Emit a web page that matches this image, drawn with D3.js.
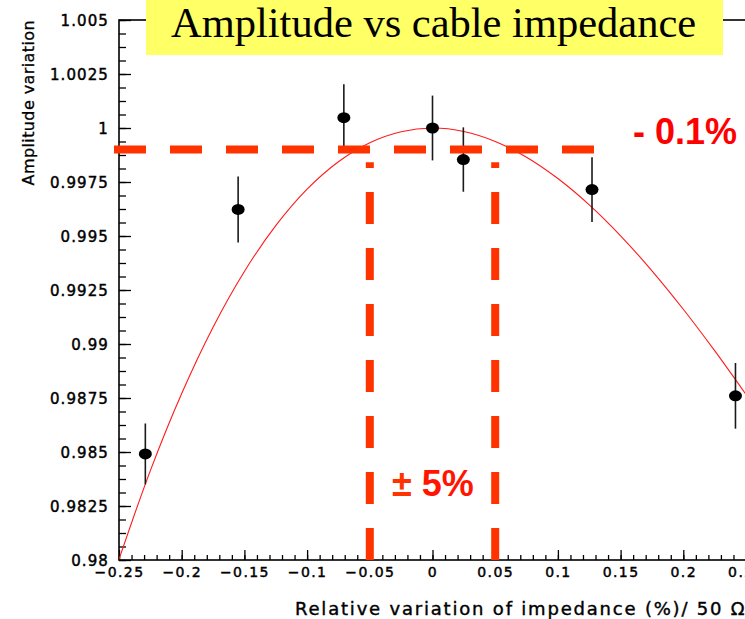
<!DOCTYPE html>
<html>
<head>
<meta charset="utf-8">
<script src="https://cdn.jsdelivr.net/npm/d3@7"></script>
<style>
  html, body { margin: 0; padding: 0; background: #fff; }
  svg { display: block; }
</style>
</head>
<body>
<svg id="chart" width="745" height="619"></svg>
<script>
// Axis ticks and their labels
const xTickValues = [-0.25, -0.2, -0.15, -0.1, -0.05, 0, 0.05, 0.1, 0.15, 0.2, 0.25];
const xTickLabels = ["−0.25", "−0.2", "−0.15", "−0.1", "−0.05", "0", "0.05", "0.1", "0.15", "0.2", "0.25"];
const yTickValues = [0.98, 0.9825, 0.985, 0.9875, 0.99, 0.9925, 0.995, 0.9975, 1, 1.0025, 1.005];
const yTickLabels = ["0.98", "0.9825", "0.985", "0.9875", "0.99", "0.9925", "0.995", "0.9975", "1", "1.0025", "1.005"];

// Measured amplitude vs relative impedance variation
const impedanceVar = [-0.229, -0.155, -0.0707, 0.0, 0.0246, 0.1272, 0.2416];
const amplitude    = [0.98491, 0.99623, 1.00048, 1.00000, 0.99854, 0.99715, 0.98760];
const amplitudeErr = [0.00141, 0.00153, 0.00154, 0.00150, 0.00149, 0.00150, 0.00152];

// Fitted curve, sampled along the axis
const fitX = [-0.25, -0.225, -0.2, -0.175, -0.15, -0.125, -0.1, -0.075, -0.05, -0.025, 0,
              0.025, 0.05, 0.075, 0.1, 0.125, 0.15, 0.175, 0.2, 0.225, 0.25];
const fitY = [0.98003, 0.98414, 0.98771, 0.99078, 0.99336, 0.99548, 0.99717, 0.99844, 0.99932, 0.99983, 1.0,
              0.99984, 0.99938, 0.99865, 0.99766, 0.99644, 0.99501, 0.99339, 0.99161, 0.98969, 0.98766];

// Tolerance annotations
const amplitudeDrop = 0.001;     // "- 0.1%"
const impedanceRange = 0.05;     // "± 5%"
const dropLineFrom = -0.254, dropLineTo = 0.1294;
const rangeLineTop = 0.99842;

const svg = d3.select("#chart");
const x = d3.scaleLinear().domain([-0.25, 0.25]).range([119, 746]);
const y = d3.scaleLinear().domain([0.98, 1.005]).range([560, 20]);

const tickFont = "'DejaVu Sans', sans-serif";

svg.append("rect").attr("width", 745).attr("height", 619).attr("fill", "#fff");

svg.append("defs").append("clipPath").attr("id", "plotArea")
  .append("rect").attr("x", 119).attr("y", 20).attr("width", 627).attr("height", 540);

// Y axis: minor then major ticks, drawn inside the frame
const yMinor = d3.range(0, 41).map(i => +(0.98 + i * 0.000625).toFixed(6));
svg.append("g").attr("transform", "translate(119,0)")
  .call(d3.axisLeft(y).tickValues(yMinor).tickSize(-7).tickFormat(""))
  .call(g => g.select(".domain").remove())
  .call(g => g.selectAll("line").attr("stroke", "#000").attr("stroke-width", 1.3));

const yAxis = svg.append("g").attr("transform", "translate(119,0)")
  .call(d3.axisLeft(y).tickValues(yTickValues).tickFormat((d, i) => yTickLabels[i])
        .tickSize(-12).tickPadding(10))
  .call(g => g.select(".domain").remove());
yAxis.selectAll("line").attr("stroke", "#000").attr("stroke-width", 1.3);
yAxis.selectAll("text")
  .attr("font-family", tickFont).attr("font-size", 15)
  .attr("letter-spacing", "1.1px").attr("fill", "#000")
  .attr("stroke", "#000").attr("stroke-width", 0.45).attr("dy", "0.36em");

// X axis: minor then major ticks pointing up
const xMinor = d3.range(0, 51).map(i => +(-0.25 + i * 0.01).toFixed(4));
svg.append("g").attr("transform", "translate(0,560)")
  .call(d3.axisBottom(x).tickValues(xMinor).tickSize(-5).tickFormat(""))
  .call(g => g.select(".domain").remove())
  .call(g => g.selectAll("line").attr("stroke", "#000").attr("stroke-width", 1.3));

const xAxis = svg.append("g").attr("transform", "translate(0,560)")
  .call(d3.axisBottom(x).tickValues(xTickValues).tickFormat((d, i) => xTickLabels[i])
        .tickSize(-10).tickPadding(7))
  .call(g => g.select(".domain").remove());
xAxis.selectAll("line").attr("stroke", "#000").attr("stroke-width", 1.3);
xAxis.selectAll("text")
  .attr("font-family", tickFont).attr("font-size", 14)
  .attr("letter-spacing", "1.4px").attr("fill", "#000")
  .attr("stroke", "#000").attr("stroke-width", 0.45);

// Frame
svg.append("rect")
  .attr("x", x(-0.25)).attr("y", y(1.005))
  .attr("width", x(0.25) - x(-0.25)).attr("height", y(0.98) - y(1.005))
  .attr("fill", "none").attr("stroke", "#000").attr("stroke-width", 1.6);

// Axis titles
svg.append("text")
  .attr("transform", `translate(34,${y(1.005)}) rotate(-90)`)
  .attr("text-anchor", "end")
  .attr("font-family", tickFont).attr("font-size", 16).attr("letter-spacing", "0.4px")
  .attr("fill", "#000").attr("stroke", "#000").attr("stroke-width", 0.3)
  .text("Amplitude variation");

svg.append("text")
  .attr("x", 295).attr("y", 615)
  .attr("font-family", tickFont).attr("font-size", 18).attr("letter-spacing", "1.8px")
  .attr("fill", "#000").attr("stroke", "#000").attr("stroke-width", 0.4)
  .text("Relative variation of impedance (%)/ 50 Ω");

const plot = svg.append("g").attr("clip-path", "url(#plotArea)");

// Fit curve
const fitPts = fitX.map((d, i) => [d, fitY[i]]);
plot.append("path")
  .datum(fitPts)
  .attr("fill", "none").attr("stroke", "#ff1a1a").attr("stroke-width", 1.1)
  .attr("d", d3.line().x(d => x(d[0])).y(d => y(d[1])).curve(d3.curveCatmullRom));

// Error bars and markers
const pts = impedanceVar.map((d, i) => ({ x: d, y: amplitude[i], e: amplitudeErr[i] }));
plot.selectAll(".err").data(pts).join("line")
  .attr("x1", d => x(d.x)).attr("x2", d => x(d.x))
  .attr("y1", d => y(d.y - d.e)).attr("y2", d => y(d.y + d.e))
  .attr("stroke", "#1a1a1a").attr("stroke-width", 1.6);
plot.selectAll(".mk").data(pts).join("ellipse")
  .attr("cx", d => x(d.x)).attr("cy", d => y(d.y))
  .attr("rx", 6.5).attr("ry", 5.5).attr("fill", "#000");

// Tolerance lines
const dashColor = "#ff3300";
svg.append("line")
  .attr("x1", x(dropLineFrom)).attr("x2", x(dropLineTo))
  .attr("y1", y(1 - amplitudeDrop)).attr("y2", y(1 - amplitudeDrop))
  .attr("stroke", dashColor).attr("stroke-width", 8).attr("stroke-dasharray", "32,24");
[-impedanceRange, impedanceRange].forEach(v => {
  svg.append("line")
    .attr("x1", x(v)).attr("x2", x(v))
    .attr("y1", y(0.98)).attr("y2", y(rangeLineTop))
    .attr("stroke", dashColor).attr("stroke-width", 8).attr("stroke-dasharray", "32,24");
});

// Annotation labels
svg.append("text")
  .attr("x", 633).attr("y", 144)
  .attr("font-family", "'Liberation Sans', Arial, sans-serif").attr("font-weight", "bold")
  .attr("font-size", 36).attr("fill", "#ff0000")
  .text("- 0.1%");

const rangeLabel = svg.append("text")
  .attr("x", 392).attr("y", 496)
  .attr("font-family", "'Liberation Sans', Arial, sans-serif").attr("font-weight", "bold")
  .attr("font-size", 36);
rangeLabel.append("tspan").attr("fill", "#ff3300").text("±");
rangeLabel.append("tspan").attr("fill", "#ff1500").text(" 5%");

// Title box
svg.append("rect")
  .attr("x", 146).attr("y", 0).attr("width", 577).attr("height", 55)
  .attr("fill", "#ffff66");
svg.append("text")
  .attr("x", 171).attr("y", 37)
  .attr("font-family", "'Liberation Serif', 'Times New Roman', serif")
  .attr("font-size", 42.5).attr("fill", "#000")
  .text("Amplitude vs cable impedance");
</script>
</body>
</html>
